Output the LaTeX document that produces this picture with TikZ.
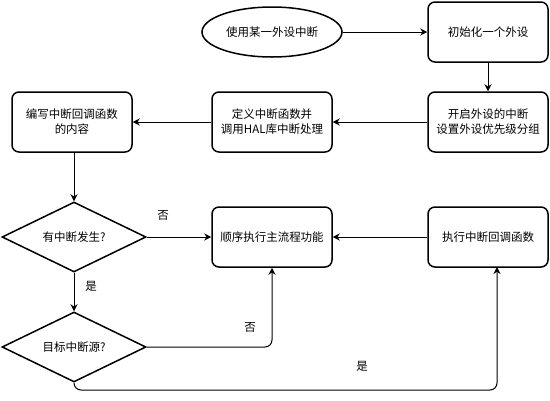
\documentclass[tikz,border=0pt]{standalone}
\usepackage{fontspec}
\newfontfamily\cjk{Noto Sans CJK SC}
\usetikzlibrary{shapes.geometric,arrows.meta}
\tikzset{
  box/.style={draw, line width=1.5pt, rounded corners=7pt, minimum width=120pt, minimum height=60pt, align=center, inner sep=2pt, font=\cjk\fontsize{11.5}{15}\selectfont},
  oval/.style={draw, line width=1.5pt, ellipse, minimum width=140pt, minimum height=50pt, inner sep=0pt, font=\cjk\fontsize{11.5}{15}\selectfont},
  decision/.style={draw, line width=1.5pt, diamond, aspect=2, minimum width=144pt, minimum height=70pt, inner sep=0pt, font=\cjk\fontsize{11.5}{15}\selectfont},
  conn/.style={line width=1pt, -{Stealth[length=7pt,width=7pt]}},
  lbl/.style={font=\cjk\fontsize{11.5}{15}\selectfont, inner sep=0pt}
}
\begin{document}
\begin{tikzpicture}[x=1pt,y=-1pt]
\useasboundingbox (0,0) rectangle (550,400);
\node[oval] (start) at (272,32) {使用某一外设中断};
\node[box] (init) at (488,32) {初始化一个外设};
\node[box] (enable) at (488,122) {开启外设的中断\\设置外设优先级分组};
\node[box] (define) at (272,122) {定义中断函数并\\调用HAL库中断处理};
\node[box] (write) at (72,122) {编写中断回调函数\\的内容};
\node[decision] (d1) at (74,237) {有中断发生?};
\node[box] (main) at (272,237) {顺序执行主流程功能};
\node[box] (cb) at (488,237) {执行中断回调函数};
\node[decision] (d2) at (74,347) {目标中断源?};
\coordinate (cbin) at (497,267);
\coordinate (c1) at (272,347);
\coordinate (c2) at (74,390);
\coordinate (c3) at (497,390);

\draw[conn] (start) -- (init);
\draw[conn] (init) -- (enable);
\draw[conn] (enable) -- (define);
\draw[conn] (define) -- (write);
\draw[conn] (write.south -| d1.north) -- (d1.north);
\draw[conn] (d1) -- (main);
\draw[conn] (d1) -- (d2);
\draw[conn, rounded corners=7pt] (d2.east) -- (c1) -- (main.south);
\draw[conn, rounded corners=7pt] (d2.south) -- (c2) -- (c3) -- (cbin);
\draw[conn] (cb) -- (main);

\node[lbl] (n1) at (163,215) {否};
\node[lbl] (y1) at (91,286) {是};
\node[lbl] (n2) at (250,327) {否};
\node[lbl] (y2) at (362,366) {是};
\end{tikzpicture}
\end{document}
